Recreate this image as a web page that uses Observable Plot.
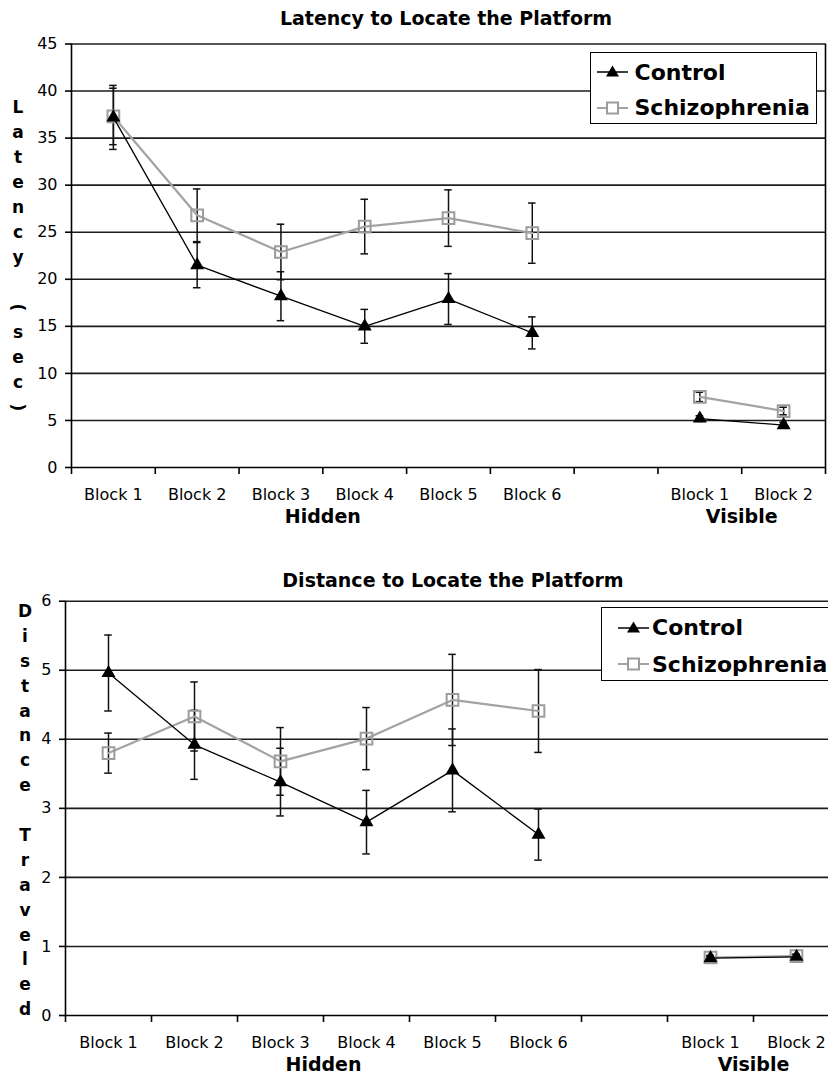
<!DOCTYPE html>
<html><head><meta charset="utf-8">
<script src="https://cdn.jsdelivr.net/npm/d3@7"></script>
<script src="https://cdn.jsdelivr.net/npm/@observablehq/plot@0.6"></script>
<style>
body{margin:0;background:#fff;width:828px;height:1075px;overflow:hidden;position:relative;font-family:"DejaVu Sans",sans-serif;color:#000;}
.abs{position:absolute;}
.title{position:absolute;font-weight:bold;font-size:19px;line-height:22px;white-space:nowrap;transform:translateX(-50%);}
.vlab{position:absolute;font-weight:bold;font-size:17px;text-align:center;width:24px;}
.vlab div{text-align:center;}
.rot{display:inline-block;transform:rotate(90deg);}
.legend{position:absolute;border:1.5px solid #000;background:#fff;box-sizing:border-box;}
.row{position:absolute;left:0;height:30px;display:flex;align-items:center;font-weight:bold;font-size:22px;white-space:nowrap;}
.row svg{display:block;}
</style></head><body>
<div class="title" id="t1" style="left:446px;top:7px">Latency to Locate the Platform</div>
<div class="title" id="t2" style="left:453px;top:569px">Distance to Locate the Platform</div>
<div id="chart1" class="abs" style="left:0;top:0"></div>
<div id="chart2" class="abs" style="left:0;top:530px"></div>
<div id="yl1" class="vlab" style="left:6px;top:94.5px"></div>
<div id="yl2" class="vlab" style="left:13px;top:599px"></div>
<div id="lg1" class="legend" style="left:590px;top:52px;width:227px;height:72px"></div>
<div id="lg2" class="legend" style="left:601px;top:607px;width:240px;height:74px"></div>
<script>
// ---- data ----
const xLabels = ["Block 1","Block 2","Block 3","Block 4","Block 5","Block 6","","Block 1","Block 2"];
const blockPos = [1,2,3,4,5,6,8,9];
const blockPhase = ["Hidden","Hidden","Hidden","Hidden","Hidden","Hidden","Visible","Visible"];
const groupLabels = ["Hidden","Visible"];
const groupPos = [3.5, 8.5];
const seriesNames = ["Control","Schizophrenia"];

const latencyControl    = [37.2, 21.5, 18.2, 15.0, 17.9, 14.3, 5.2, 4.5];
const latencyControlErr = [3.4, 2.4, 2.6, 1.8, 2.7, 1.7, 0.3, 0.3];
const latencySchiz      = [37.3, 26.8, 22.9, 25.6, 26.5, 24.9, 7.5, 6.0];
const latencySchizErr   = [3.0, 2.8, 2.95, 2.9, 3.0, 3.2, 0.5, 0.4];
const latencyTicks = [0,5,10,15,20,25,30,35,40,45];

const distanceControl    = [4.96, 3.92, 3.38, 2.80, 3.55, 2.62, 0.83, 0.85];
const distanceControlErr = [0.55, 0.50, 0.49, 0.46, 0.60, 0.37, 0.03, 0.03];
const distanceSchiz      = [3.80, 4.33, 3.68, 4.01, 4.57, 4.41, 0.84, 0.86];
const distanceSchizErr   = [0.29, 0.50, 0.49, 0.45, 0.66, 0.60, 0.03, 0.03];
const distanceTicks = [0,1,2,3,4,5,6];

const latencyLabel = ["L","a","t","e","n","c","y"," ","(","s","e","c",")"];
const distanceLabel = ["D","i","s","t","a","n","c","e"," ","T","r","a","v","e","l","e","d"];

// ---- helpers ----
function rows(vals, errs) {
  return vals.map((v, i) => ({pos: blockPos[i], phase: blockPhase[i], v, e: errs[i]}));
}
function caps(data) {
  return data.flatMap(d => [{pos: d.pos, y: d.v - d.e}, {pos: d.pos, y: d.v + d.e}]);
}
const bounds = d3.range(0, 10).map(i => i + 0.5);
const groups = groupLabels.map((g, i) => ({label: g, pos: groupPos[i]}));

function makeChart(opt) {
  const ctrl = rows(opt.ctrl, opt.ctrlErr);
  const sch = rows(opt.sch, opt.schErr);
  const yMax = opt.ticks[opt.ticks.length - 1];
  const capHalf = opt.capHalf;
  const marks = [
    Plot.ruleY(opt.ticks.filter(t => t > 0), {y: d => d, stroke: "#1c1c1c", strokeWidth: 1.6}),
    Plot.ruleY([0], {y: d => d, stroke: "#000", strokeWidth: 1.6}),
    Plot.ruleX([0.5], {x: d => d, stroke: "#000", strokeWidth: 1.6}),
  ];
  if (opt.rightBorder) marks.push(Plot.ruleX([9.5], {x: d => d, y1: 0, y2: yMax, stroke: "#000", strokeWidth: 1.6}));
  marks.push(
    Plot.axisX({ticks: bounds, tickSize: 7, tickFormat: () => "", label: null, strokeWidth: 1.6}),
    Plot.axisX({ticks: d3.range(1, 10), tickSize: 0, tickPadding: 21, tickFormat: i => xLabels[i - 1], label: null, fontSize: 16}),
    Plot.axisY({ticks: opt.ticks, tickSize: 6, tickPadding: 8, tickFormat: d => String(d), label: null, fontSize: 16, strokeWidth: 1.6}),
    Plot.text(groups, {x: "pos", y: () => 0, text: "label", dy: 49.5, fontSize: 19, fontWeight: "bold", fill: "#000"}),
    // error bars
    Plot.ruleX(sch, {x: "pos", y1: d => d.v - d.e, y2: d => d.v + d.e, stroke: "#111", strokeWidth: 1.5}),
    Plot.ruleY(caps(sch), {y: "y", x1: d => d.pos - capHalf, x2: d => d.pos + capHalf, stroke: "#111", strokeWidth: 1.5}),
    Plot.ruleX(ctrl, {x: "pos", y1: d => d.v - d.e, y2: d => d.v + d.e, stroke: "#111", strokeWidth: 1.5}),
    Plot.ruleY(caps(ctrl), {y: "y", x1: d => d.pos - capHalf, x2: d => d.pos + capHalf, stroke: "#111", strokeWidth: 1.5}),
    // series
    Plot.line(sch, {x: "pos", y: "v", z: "phase", stroke: "#a3a3a3", strokeWidth: 2.2}),
    Plot.dot(sch, {x: "pos", y: "v", symbol: "square", r: 6.6, stroke: "#9c9c9c", strokeWidth: 2, fill: "none"}),
    Plot.line(ctrl, {x: "pos", y: "v", z: "phase", stroke: "#000", strokeWidth: 1.3}),
    Plot.dot(ctrl, {x: "pos", y: "v", symbol: "triangle", r: 5.2, fill: "#000", stroke: "none"})
  );
  return Plot.plot({
    width: 828, height: opt.height,
    marginLeft: opt.marginLeft, marginRight: opt.marginRight,
    marginTop: opt.marginTop, marginBottom: opt.marginBottom,
    style: {fontFamily: "DejaVu Sans, sans-serif", fontSize: "16px", color: "#000", background: "transparent", overflow: "hidden"},
    x: {type: "linear", domain: [0.5, 9.5]},
    y: {type: "linear", domain: [0, yMax]},
    marks
  });
}

document.getElementById("chart1").append(makeChart({
  ctrl: latencyControl, ctrlErr: latencyControlErr, sch: latencySchiz, schErr: latencySchizErr,
  ticks: latencyTicks, height: 530, marginLeft: 71, marginRight: 3, marginTop: 43.5, marginBottom: 63,
  rightBorder: true, capHalf: 0.045
}));
document.getElementById("chart2").append(makeChart({
  ctrl: distanceControl, ctrlErr: distanceControlErr, sch: distanceSchiz, schErr: distanceSchizErr,
  ticks: distanceTicks, height: 545, marginLeft: 65, marginRight: -11, marginTop: 70.7, marginBottom: 60,
  rightBorder: false, capHalf: 0.044
}));

// vertical stacked axis titles
function stack(el, letters, lh) {
  letters.forEach(ch => {
    const d = document.createElement("div");
    d.style.height = lh + "px"; d.style.lineHeight = lh + "px";
    if (ch === "(" || ch === ")") {
      const s = document.createElement("span"); s.className = "rot"; s.textContent = ch; d.append(s);
    } else d.textContent = ch === " " ? "\u00a0" : ch;
    el.append(d);
  });
}
stack(document.getElementById("yl1"), latencyLabel, 25);
stack(document.getElementById("yl2"), distanceLabel, 24.9);

// legends
function legend(el, rowTops, iconLeft, textLeft) {
  const ns = "http://www.w3.org/2000/svg";
  seriesNames.forEach((name, i) => {
    const row = document.createElement("div");
    row.className = "row"; row.style.top = rowTops[i] + "px"; row.style.left = iconLeft + "px";
    const svg = document.createElementNS(ns, "svg");
    svg.setAttribute("width", 31); svg.setAttribute("height", 30);
    const ln = document.createElementNS(ns, "line");
    ln.setAttribute("x1", 0); ln.setAttribute("x2", 31); ln.setAttribute("y1", 15); ln.setAttribute("y2", 15);
    if (i === 0) {
      ln.setAttribute("stroke", "#000"); ln.setAttribute("stroke-width", 1.5);
      svg.append(ln);
      const p = document.createElementNS(ns, "path");
      p.setAttribute("d", "M15.5,8.5 L22,19.5 L9,19.5 Z"); p.setAttribute("fill", "#000");
      svg.append(p);
    } else {
      ln.setAttribute("stroke", "#a3a3a3"); ln.setAttribute("stroke-width", 2);
      svg.append(ln);
      const r = document.createElementNS(ns, "rect");
      r.setAttribute("x", 10); r.setAttribute("y", 9.5); r.setAttribute("width", 11); r.setAttribute("height", 11);
      r.setAttribute("fill", "#fff"); r.setAttribute("stroke", "#9c9c9c"); r.setAttribute("stroke-width", 2);
      svg.append(r);
    }
    row.append(svg);
    const t = document.createElement("span");
    t.textContent = name; t.style.marginLeft = (textLeft - iconLeft - 31) + "px";
    row.append(t);
    el.append(row);
  });
}
legend(document.getElementById("lg1"), [4, 39.5], 5.5, 43.5);
legend(document.getElementById("lg2"), [4.5, 41], 16, 50);
</script>
</body></html>
